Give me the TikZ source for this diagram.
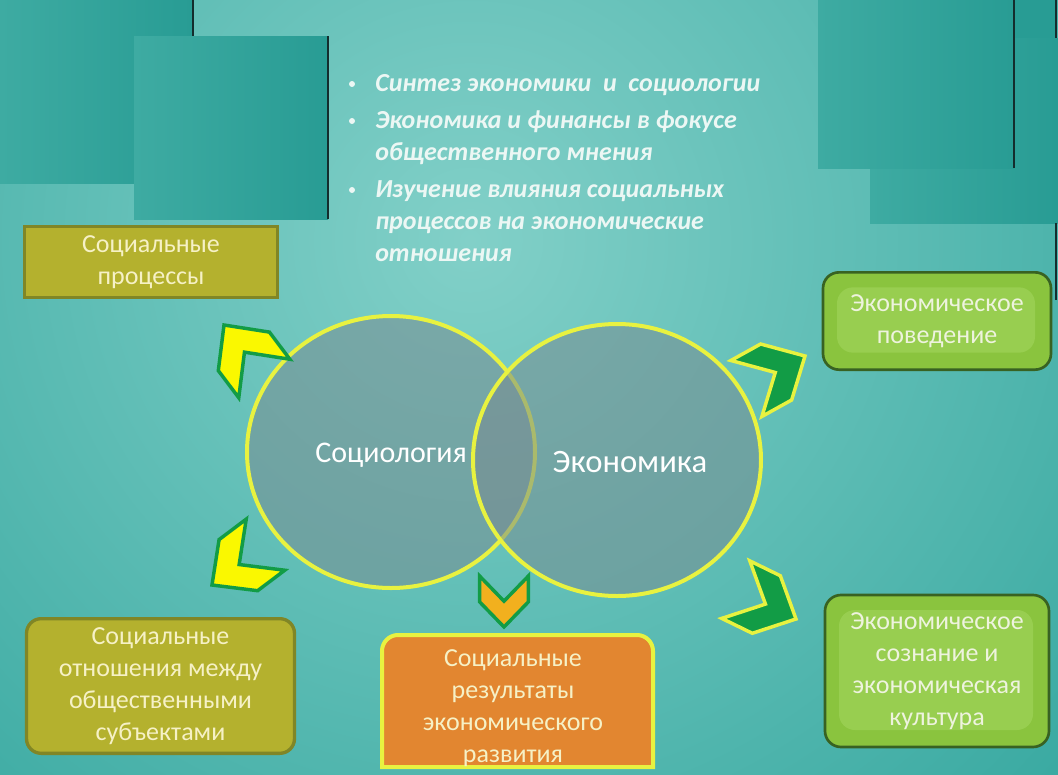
\documentclass[tikz,border=0pt]{standalone}
\usepackage{fontspec}
\setmainfont{Carlito}
\usetikzlibrary{shapes.geometric}
\definecolor{bgdark}{RGB}{40,160,152}
\definecolor{bglight}{RGB}{130,208,200}
\definecolor{panellight}{RGB}{62,171,162}
\definecolor{paneldark}{RGB}{40,156,148}
\definecolor{edgeblack}{RGB}{20,45,45}
\definecolor{vennfill}{RGB}{120,140,145}
\definecolor{ringyellow}{RGB}{232,242,64}
\definecolor{listwhite}{RGB}{236,247,244}
\definecolor{olivefill}{RGB}{180,177,46}
\definecolor{olivedraw}{RGB}{128,134,38}
\definecolor{creamtext}{RGB}{246,241,198}
\definecolor{orangefill}{RGB}{226,134,48}
\definecolor{limefill}{RGB}{138,196,62}
\definecolor{limeinner}{RGB}{152,206,80}
\definecolor{limedraw}{RGB}{56,98,34}
\definecolor{limetext}{RGB}{238,243,222}
\definecolor{chevgreen}{RGB}{18,156,70}
\definecolor{chevyellow}{RGB}{250,248,0}
\definecolor{chevorange}{RGB}{242,176,30}
\newcommand{\boxfont}{\fontsize{19.5pt}{24pt}\selectfont}
\newcommand{\listfont}{\fontsize{19.5pt}{24pt}\selectfont\bfseries\itshape}
\newcommand{\chevmark}[4]{%
  \filldraw[shift={(#1,#2)}, rotate=#3, #4]
    (0,0) -- (-33,-32) -- (-67,-32) -- (-34,0) -- (-67,32) -- (-33,32) -- cycle;}

\begin{document}
\begin{tikzpicture}[x=0.75pt, y=-0.75pt,
    panel/.style={left color=panellight, right color=paneldark},
    edgeline/.style={draw=edgeblack, line width=1.5pt},
    venn/.style={ellipse, draw=ringyellow, line width=3pt, fill=vennfill, fill opacity=0.55, minimum width=216pt, minimum height=204pt},
    venntext/.style={text=white},
    listitem/.style={text=listwhite, align=left, font=\listfont, inner sep=0pt},
    bulletdot/.style={circle, fill=listwhite, minimum size=4.5pt, inner sep=0pt},
    olivebox/.style={rectangle, fill=olivefill, draw=olivedraw, line width=2.5pt, text=creamtext, align=center, font=\boxfont, inner sep=0pt},
    resbox/.style={fill=orangefill, draw=ringyellow, line width=3pt},
    limebox/.style={rectangle, rounded corners=12pt, fill=limefill, draw=limedraw, line width=2pt, text=limetext, align=center, font=\boxfont, inner sep=0pt,
      path picture={\fill[limeinner] ([shift={(14,15)}]path picture bounding box.north west) rectangle ([shift={(-16,-17)}]path picture bounding box.south east);}},
    boxtext/.style={text=creamtext, align=center, font=\boxfont, inner sep=0pt},
    chevbase/.style={line width=2.6pt, line join=miter},
    yellowchev/.style={chevbase, fill=chevyellow, draw=chevgreen},
    greenchev/.style={chevbase, fill=chevgreen, draw=ringyellow},
    orangechev/.style={chevbase, fill=chevorange, draw=chevgreen, scale=0.76}
]
\useasboundingbox (0,0) rectangle (1058,775);

% backdrop
\fill[bgdark] (0,0) rectangle (1058,775);
\begin{scope}
  \clip (0,0) rectangle (1058,775);
  \shade[inner color=bglight, outer color=bgdark] (470,240) circle (1000);
\end{scope}

% panels top left
\fill[panel] (0,0) rectangle (193,183);
\draw[edgeline] (193,0) -- (193,183);
\fill[panel] (134,36) rectangle (328,219);
\draw[edgeline] (328,36) -- (328,219);

% panels top right
\fill[paneldark] (1000,0) rectangle (1056,38);
\draw[edgeline] (1056,0) -- (1056,38);
\fill[panel] (870,38) rectangle (1058,223);
\fill[panel] (818,0) rectangle (1014,168);
\draw[edgeline] (1014,0) -- (1014,168);
\draw[edgeline] (1056,223) -- (1056,300);

% bullet list (base = last line)
\node[bulletdot] (dot1) at (352,84) {};
\node[listitem, anchor=base west] (item1) at (375,91) {Синтез экономики\ \ и\ \ социологии};
\node[bulletdot] (dot2) at (352,121) {};
\node[listitem, anchor=base west] (item2) at (375,160) {Экономика и финансы в фокусе\\общественного мнения};
\node[bulletdot] (dot3) at (352,190) {};
\node[listitem, anchor=base west] (item3) at (375,261) {Изучение влияния социальных\\процессов на экономические\\отношения};

% venn circles
\node[venn] (soc) at (391,452) {};
\node[venn] (eko) at (617,460) {};
\node[venntext, font=\fontsize{22.5pt}{26pt}\selectfont] (soctext) at (391,455) {Социология};
\node[venntext, font=\fontsize{24.5pt}{28pt}\selectfont] (ekotext) at (630,462) {Экономика};

% chevrons
\chevmark{224}{325}{127}{yellowchev}
\chevmark{212}{585}{217}{yellowchev}
\chevmark{504}{627}{270}{orangechev}
\chevmark{805}{356}{29}{greenchev}
\chevmark{796}{619}{334}{greenchev}

% boxes
\node[olivebox, minimum width=190pt, minimum height=53pt] (proc) at (151,262) {Социальные\\процессы};
\node[olivebox, rounded corners=11pt, minimum width=201pt, minimum height=101pt] (rel) at (160.5,686) {Социальные\\отношения между\\общественными\\субъектами};
\draw[resbox] (382,767) [rounded corners=12pt] -- (382,635) -- (653,635) [sharp corners] -- (653,767) -- cycle;
\node[boxtext] (res) at (513,708) {Социальные\\результаты\\экономического\\развития};
\node[limebox, minimum width=171pt, minimum height=73pt] (beh) at (937,321) {Экономическое\\поведение};
\node[limebox, minimum width=168pt, minimum height=114pt] (cons) at (937,671) {Экономическое\\сознание и\\экономическая\\культура};

\end{tikzpicture}
\end{document}
